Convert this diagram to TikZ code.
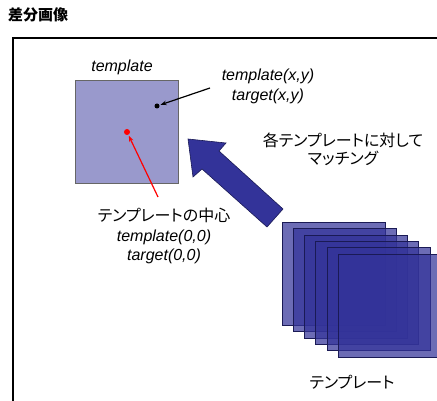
\documentclass[tikz,border=0pt]{standalone}
\usepackage{fontspec}
\setmainfont{Liberation Sans}
\newfontfamily\cjk{Noto Sans CJK JP}[RawFeature=+palt]
\usetikzlibrary{arrows.meta}
\definecolor{tmplfill}{HTML}{9999CC}
\definecolor{navy}{HTML}{333399}
\definecolor{navyedge}{HTML}{1A1A55}
\tikzset{
  txt/.style={inner sep=0pt, align=center},
  lat/.style={txt, font=\itshape\fontsize{16}{20}\selectfont},
  jp/.style={txt, font=\cjk\fontsize{16}{18}\selectfont},
  tmplbox/.style={draw=black!60, line width=0.8pt, fill=tmplfill, minimum size=103pt, inner sep=0pt},
  stackbox/.style={draw=navyedge, line width=0.8pt, fill=navy, fill opacity=0.72, minimum size=103pt, inner sep=0pt},
  dotnode/.style={circle, inner sep=0pt, minimum size=5pt},
  ptr/.style={line width=1.2pt, -{Stealth[length=6pt,width=4.5pt]}, shorten >=1pt}
}
\begin{document}
\begin{tikzpicture}[x=1pt,y=-1pt]
\useasboundingbox (0,0) rectangle (437,401);
% title
\node[txt, anchor=west, font=\cjk\bfseries\fontsize{15}{17}\selectfont] (title) at (8,15) {差分画像};
% frame
\draw[line width=1.5pt] (13,401) |- (437,38);
% template square
\node[tmplbox] (tmpl) at (126.5,132) {};
\node[lat] (tlabel) at (122,67.5) {template};
% points
\node[dotnode, fill=black] (bdot) at (157,106) {};
\node[dotnode, fill=red, minimum size=6pt] (rdot) at (127,132) {};
% label xy
\node[lat] (xylabel) at (268,86.5) {template(x,y)\\target(x,y)};
\coordinate (xyfrom) at (210,88);
\draw[ptr] (xyfrom) -- (bdot);
% center label
\node[txt, font=\itshape\fontsize{16}{19.5}\selectfont] (clabel) at (164,236) {{\upshape\cjk\fontsize{16}{19.5}\selectfont テンプレートの中心}\\template(0,0)\\target(0,0)};
\coordinate (cfrom) at (158,197);
\draw[ptr, red] (cfrom) -- (rdot);
% big arrow
\filldraw[fill=navy, draw=navyedge, line width=0.6pt] (188,139) -- (226,143) -- (219,151) -- (283,209) -- (267,227) -- (202,169) -- (193,177) -- cycle;
% matching label
\node[jp] (mlabel) at (343,149) {各テンプレートに対して\\マッチング};
% stack of templates
\foreach \x/\y [count=\i] in {282/222,293/228,304/235,315/241,327/247,338/254}
  \node[stackbox] (s\i) at ({\x+51.5},{\y+51.5}) {};
\node[jp] (slabel) at (352,382) {テンプレート};
\end{tikzpicture}
\end{document}
